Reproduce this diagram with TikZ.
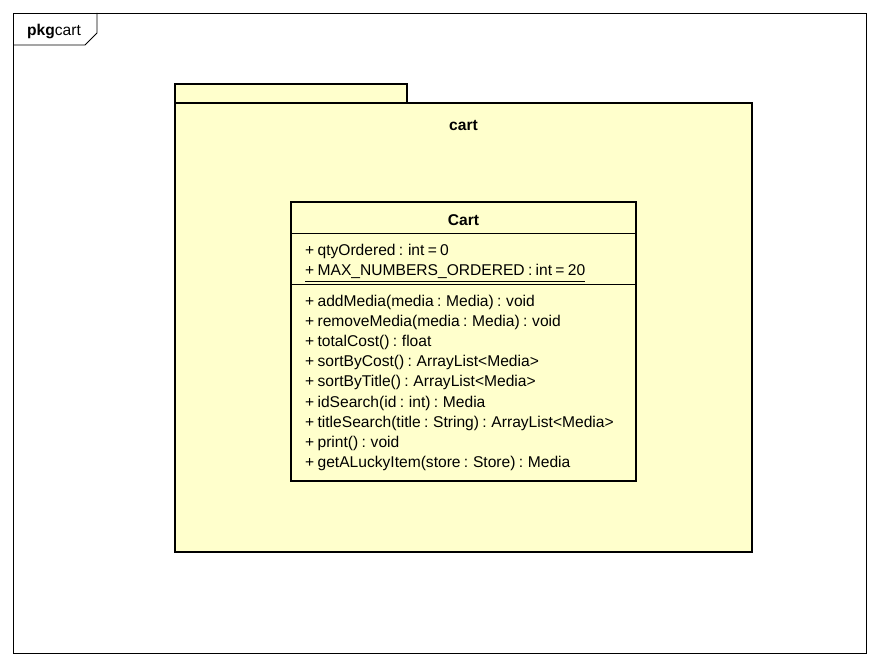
\documentclass[tikz,border=0pt]{standalone}
\usepackage{fontspec}
\setmainfont{Liberation Sans}
\newcommand\umlfont{\fontsize{15.6}{17}\selectfont\spaceskip=3.3pt\relax}
\begin{document}
\begin{tikzpicture}[x=1pt,y=-1pt,
  pkgfill/.style={fill=pkgyellow,draw=black,line width=2.6pt},
  txt/.style={inner sep=0pt,font=\umlfont},
  member/.style={txt,anchor=west},
  sepline/.style={draw=black,line width=0.9pt}]
\definecolor{pkgyellow}{HTML}{FFFFCC}
\useasboundingbox (0,0) rectangle (880,666);
% outer frame
\draw[line width=0.9pt] (13,13) rectangle (866,653);
\draw[line width=0.9pt] (13,45) -- (85,45) -- (97,33) -- (97,13);
\node[member] (frametitle) at (27,32) {\textbf{pkg}cart};
% package
\draw[pkgfill] (175,84) rectangle (407,103);
\draw[pkgfill] (175,103) rectangle (752,552);
\node[txt,font=\umlfont\bfseries] (pkgname) at (463.5,125) {cart};
% class
\draw[pkgfill] (291,202) rectangle (636,481);
\node[txt,font=\umlfont\bfseries] (classname) at (463.5,220) {Cart};
\draw[sepline] (291,233) -- (636,233);
\draw[sepline] (291,284) -- (636,284);
\node[member] (a1) at (305,251.5) {+ qtyOrdered : int = 0};
\node[member] (a2) at (305,271.5) {+ MAX\_NUMBERS\_ORDERED : int = 20};
\draw[line width=0.8pt] (a2.south west) ++(0,2.5) coordinate (u1) (u1) -- (a2.south east |- u1);
\node[member] (m1) at (305,302) {+ addMedia(media : Media) : void};
\node[member] (m2) at (305,322.2) {+ removeMedia(media : Media) : void};
\node[member] (m3) at (305,342.4) {+ totalCost() : float};
\node[member] (m4) at (305,362.6) {+ sortByCost() : ArrayList<Media>};
\node[member] (m5) at (305,382.8) {+ sortByTitle() : ArrayList<Media>};
\node[member] (m6) at (305,403) {+ idSearch(id : int) : Media};
\node[member] (m7) at (305,423.2) {+ titleSearch(title : String) : ArrayList<Media>};
\node[member] (m8) at (305,443.4) {+ print() : void};
\node[member] (m9) at (305,463.6) {+ getALuckyItem(store : Store) : Media};
\end{tikzpicture}
\end{document}
